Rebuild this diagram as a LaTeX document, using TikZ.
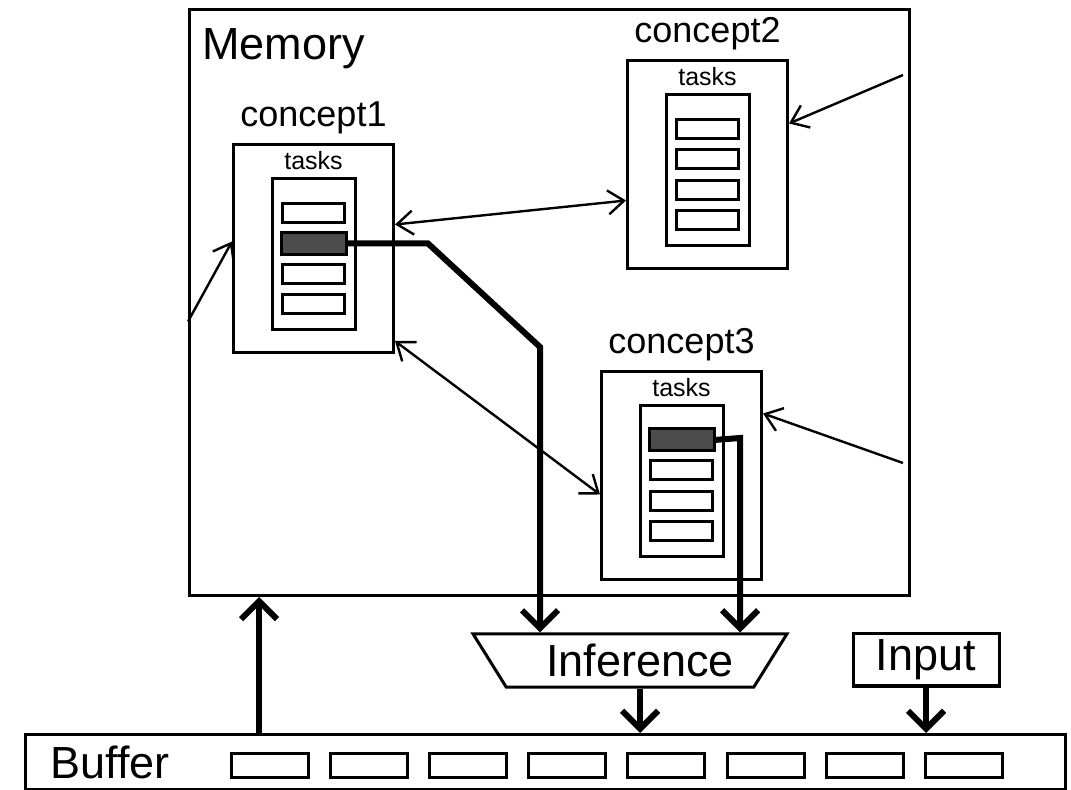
\documentclass[tikz,border=0pt]{standalone}
\usepackage{fontspec}
\setmainfont{Liberation Sans}
\usetikzlibrary{arrows.meta,shapes.geometric,positioning}

\tikzset{
  box/.style={draw, line width=1.5pt, inner sep=0pt},
  concept/.style={box, anchor=north west, minimum width=80pt, minimum height=104pt},
  tasklist/.style={box, anchor=north west, minimum width=41.5pt, minimum height=75.5pt},
  slot/.style={box, anchor=north west, minimum width=31pt, minimum height=9.5pt},
  cell/.style={box, anchor=north west, minimum width=38.5pt, minimum height=12pt},
  bigfont/.style={font=\fontsize{22.5}{27}\selectfont},
  namefont/.style={font=\fontsize{18}{22}\selectfont},
  smallfont/.style={font=\fontsize{12.5}{15}\selectfont},
  link/.style={line width=1.2pt, ->},
  flow/.style={line width=3pt, -{Straight Barb[length=9pt,width=18pt]}},
}

\begin{document}
\begin{tikzpicture}[x=0.5pt, y=-0.5pt, >={Straight Barb[length=8pt,width=12pt]}]
  \useasboundingbox (0,0) rectangle (1071,790);

  \node[box, anchor=north west, minimum width=360pt, minimum height=293pt] (mem) at (188,8) {};
  \node[bigfont, anchor=north west, inner sep=0pt] (memname) at ([xshift=7pt,yshift=-10pt]mem.north west) {Memory};

  \foreach \n/\t/\x/\y in {c1/concept1/232/143, c2/concept2/626/59, c3/concept3/600/370} {
    \node[concept] (\n) at (\x,\y) {};
    \node[namefont, inner sep=0pt, above=4.5pt of \n] (\n-name) {\t};
    \node[smallfont, inner sep=0pt, below=4pt of \n.north] (\n-tasks) {tasks};
    \node[tasklist] (\n-list) at ([xshift=19.5pt,yshift=-17pt]\n.north west) {};
    \foreach \i in {1,...,4}
      \node[slot] (\n-s\i) at ([xshift=24.5pt,yshift={-29.5pt-15.25pt*(\i-1)}]\n.north west) {};
  }
  \fill[black!70, draw=black, line width=1.5pt] (c1-s2.north west) rectangle (c1-s2.south east);
  \fill[black!70, draw=black, line width=1.5pt] (c3-s1.north west) rectangle (c3-s1.south east);

  \node[box, trapezium, shape border rotate=180, trapezium angle=50, trapezium stretches=true,
    minimum width=157pt, minimum height=26.5pt, bigfont] (inf) at (630,660.5) {\hspace*{10pt}Inference};
  \node[box, bigfont, minimum width=73pt, minimum height=26pt] (input) at (926,660) {Input};

  \node[box, anchor=north west, minimum width=520pt, minimum height=27.5pt] (buf) at (24,733) {};
  \node[bigfont, anchor=west, inner sep=0pt] (bufname) at ([xshift=13pt]buf.west) {Buffer};
  \foreach \i in {1,...,8}
    \node[cell] (b\i) at ({230+99.1*(\i-1)},752) {};

  \coordinate (feed2) at (903,75);
  \coordinate (feed3) at (903,463);
  \draw[link] ([yshift=-9.5pt]mem.west) -- ([yshift=3.5pt]c1.west);
  \draw[link] (feed2) -- ([yshift=20.5pt]c2.east);
  \draw[link] (feed3) -- ([yshift=31pt]c3.east);
  \draw[link, <->] ([yshift=12pt]c1.east) -- ([yshift=-18pt]c2.west);
  \draw[link, <->] ([yshift=6.5pt]c1.south east) -- ([yshift=-9.5pt]c3.west);

  \coordinate (turn1) at (540,347);
  \coordinate (turn3) at (740,438);
  \draw[flow] (c1-s2.east) -- +(82,0) -- (turn1) -- (turn1 |- inf.north);
  \draw[flow] (c3-s1.east) -- (turn3) -- (turn3 |- inf.north);

  \coordinate (out) at ([xshift=5pt]inf.south);
  \coordinate (up) at ([xshift=35.5pt]mem.south west);
  \draw[flow] (out) -- (out |- buf.north);
  \draw[flow] (input.south) -- (input.south |- buf.north);
  \draw[flow] (up |- buf.north) -- (up);
\end{tikzpicture}
\end{document}
